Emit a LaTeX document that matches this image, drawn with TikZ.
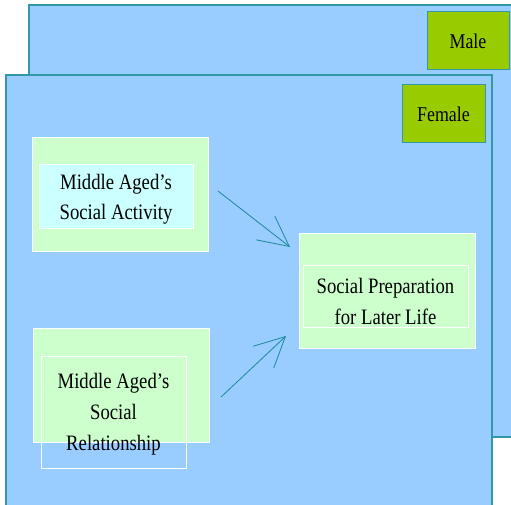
\documentclass[tikz,border=0pt]{standalone}
\usepackage{fontspec}
\setmainfont{Liberation Serif}
\newfontfamily\labfont[FakeStretch=0.85]{Liberation Serif}
\usetikzlibrary{arrows.meta}
\definecolor{panelblue}{HTML}{99CCFF}
\definecolor{panelline}{HTML}{3399AA}
\definecolor{lgreen}{HTML}{CCFFCC}
\definecolor{lcyan}{HTML}{CCFFFF}
\definecolor{tagreen}{HTML}{99CC00}
\definecolor{arrowteal}{HTML}{1A8A99}
\tikzset{
  panel/.style={draw=panelline, line width=1.3pt, fill=panelblue, inner sep=0pt},
  tag/.style={draw=panelline, line width=1pt, fill=tagreen, inner sep=0pt,
    font=\labfont\fontsize{21}{24}\selectfont},
  outerbox/.style={draw=white, line width=0.7pt, fill=lgreen, inner sep=0pt},
  innerbox/.style={draw=white, line width=0.7pt, inner sep=0pt, align=center,
    font=\labfont\fontsize{22}{31}\selectfont},
  link/.style={draw=arrowteal, line width=0.8pt, -{Straight Barb[length=30pt,width=30pt]}}
}
\begin{document}
\begin{tikzpicture}[x=1pt,y=-1pt]
\useasboundingbox (0,0) rectangle (511,505);
% back panel (Male)
\node[panel, minimum width=484, minimum height=432] (malepanel) at (271,221) {};
\node[tag, minimum width=82, minimum height=58] (male) at (468,41) {Male};
% front panel (Female)
\node[panel, minimum width=486, minimum height=440] (femalepanel) at (249,295) {};
\node[tag, minimum width=83, minimum height=58] (female) at (443.5,114) {Female};
% activity
\node[outerbox, minimum width=176, minimum height=114] (actout) at (120,194) {};
\node[innerbox, fill=lcyan, minimum width=154, minimum height=64] (act) at (116,196) {};
\node[innerbox, draw=none] (acttext) at (116,199) {Middle Aged’s\\[-1pt]Social Activity};
% relationship
\node[outerbox, minimum width=176, minimum height=114] (relout) at (121,385) {};
\node[innerbox, minimum width=145, minimum height=112] (rel) at (113.5,412) {};
\node[innerbox, draw=none] (reltext) at (113.5,414) {Middle Aged’s\\Social\\Relationship};
% preparation
\node[outerbox, minimum width=176, minimum height=115] (prepout) at (387,290.5) {};
\node[innerbox, minimum width=165, minimum height=62] (prep) at (385.5,296) {};
\node[innerbox, draw=none] (preptext) at (385.5,301) {Social Preparation\\for Later Life};
% arrows
\coordinate (a1s) at (218,191);
\coordinate (a1e) at (290,247);
\coordinate (a2s) at (221,397);
\coordinate (a2e) at (286,336);
\draw[link] (a1s) -- (a1e);
\draw[link] (a2s) -- (a2e);
\end{tikzpicture}
\end{document}
